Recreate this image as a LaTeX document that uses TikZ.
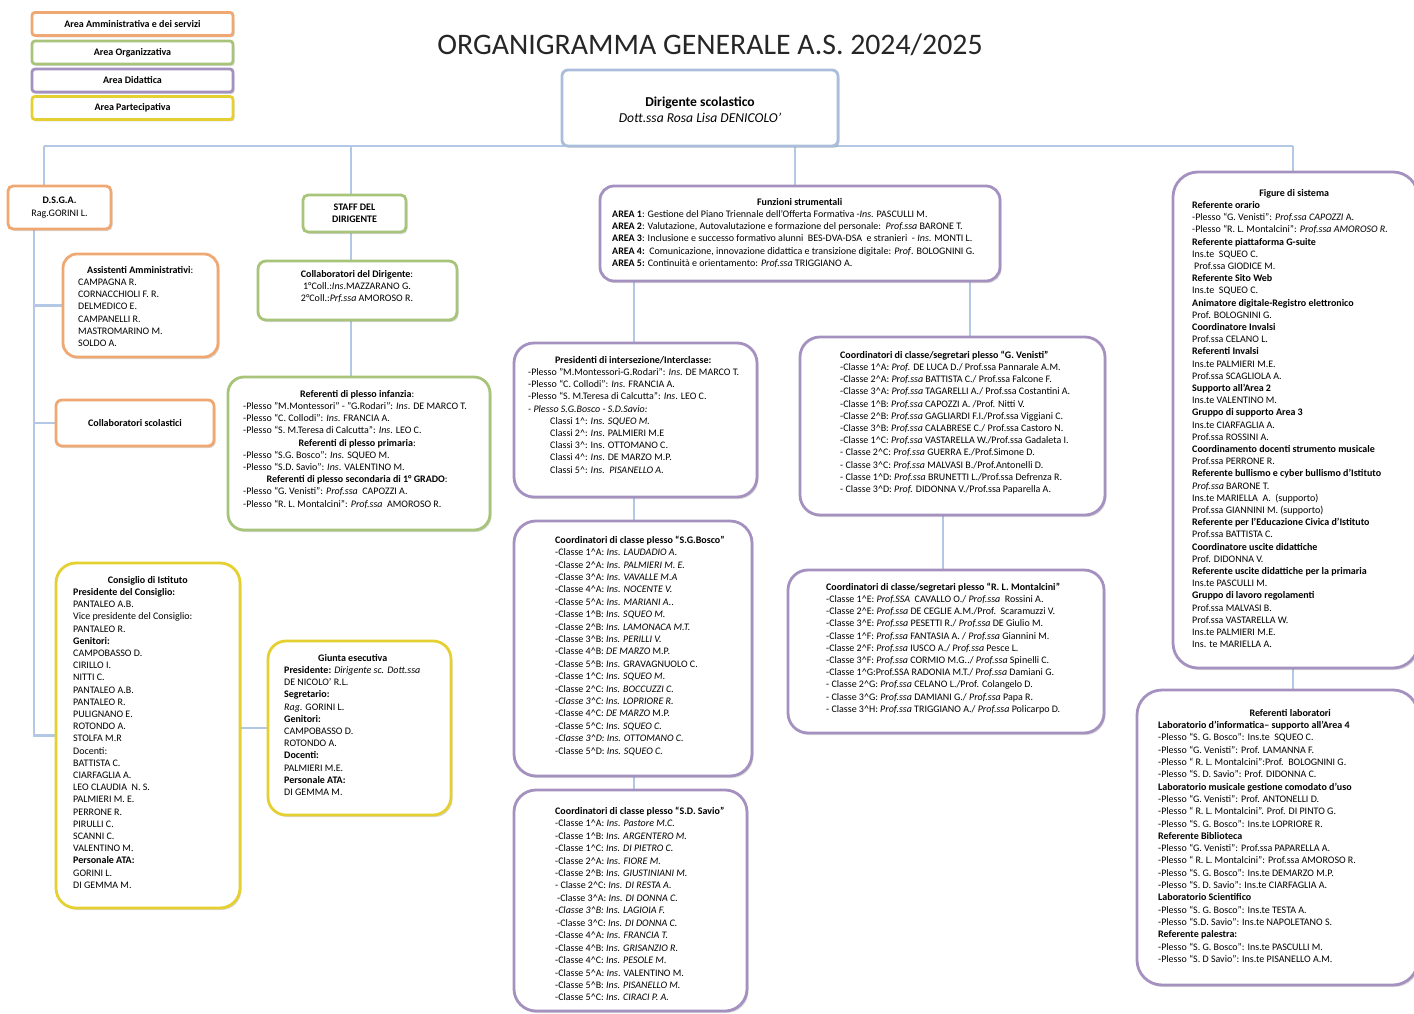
\documentclass[tikz,border=0pt]{standalone}
\usepackage{fontspec}
\setmainfont{Carlito}
\usetikzlibrary{shadows,calc}
\definecolor{corange}{RGB}{240,168,115}
\definecolor{cgreen}{RGB}{168,196,122}
\definecolor{cpurple}{RGB}{165,145,192}
\definecolor{cyellow}{RGB}{228,208,48}
\definecolor{cblue}{RGB}{178,200,228}
\definecolor{cdir}{RGB}{170,190,220}
\newcommand{\ca}{\textasciicircum}
\newcommand{\ctr}[2]{\makebox[#1pt][c]{#2}}
\newcommand{\bx}[7]{\node[box=#2, rounded corners=#7pt, minimum width={(#5-#3)*1pt}, minimum height={(#6-#4)*1pt}] (#1) at ({(#3+#5)/2},{(#4+#6)/2}) {};}
\pgfdeclarelayer{bg}
\pgfsetlayers{bg,main}
\begin{document}
\begin{tikzpicture}[x=1pt,y=-1pt,
  box/.style={draw=#1, line width=2.8pt, fill=white, inner sep=0pt, outer sep=0pt,
     drop shadow={shadow xshift=1.5pt, shadow yshift=-2pt, opacity=0.25, fill=black!60}},
  txt/.style={font=\fontsize{10}{12.2}\selectfont, align=left, inner sep=0pt, anchor=north west},
  conn/.style={draw=cblue, line width=2.6pt},
  legend/.style={box=#1, rounded corners=3pt, minimum width=201pt, minimum height=23pt, font=\bfseries\fontsize{10}{11}\selectfont},
]
\useasboundingbox (0,0) rectangle (1414,1014);

% legend
\node[legend=corange] (lg1) at (132.5,24) {Area Amministrativa e dei servizi};
\node[legend=cgreen] (lg2) at (132.5,52.5) {Area Organizzativa};
\node[legend=cpurple] (lg3) at (132.5,80.5) {Area Didattica};
\node[legend=cyellow] (lg4) at (132.5,108) {Area Partecipativa};

% title
\node[font=\fontsize{29.8}{34}\selectfont, text=black!85] (title) at (710,45) {ORGANIGRAMMA GENERALE A.S. 2024/2025};

% dirigente
\bx{dir}{cdir}{562}{70}{838}{146}{6}
\node[font=\fontsize{13.6}{16}\selectfont, align=center, inner sep=0pt] (dirtxt) at (700,110) {\textbf{Dirigente scolastico}\\\textit{Dott.ssa Rosa Lisa DENICOLO'}};

% boxes
\node[box=corange, rounded corners=5pt, minimum width=103pt, minimum height=43pt, txt, anchor=center, align=center] (dsga) at (59.5,207.5) {\textbf{D.S.G.A.}\\Rag.GORINI L.};
\node[box=cgreen, rounded corners=5pt, minimum width=103pt, minimum height=37pt, txt, anchor=center, align=center] (staff) at (354.5,213.5) {\textbf{STAFF DEL}\\\textbf{DIRIGENTE}};
\node[box=corange, rounded corners=6pt, minimum width=158pt, minimum height=46pt, txt, anchor=center, align=center] (collabsc) at (135,423) {\textbf{Collaboratori scolastici}};
\bx{assist}{corange}{63}{254}{218}{357}{14}
\bx{collab}{cgreen}{258}{261}{457}{320}{8}
\bx{refpl}{cgreen}{228}{377}{490}{530}{16}
\bx{consiglio}{cyellow}{56}{563}{240}{908}{20}
\bx{giunta}{cyellow}{268}{641}{451}{815}{18}
\bx{funz}{cpurple}{600}{186}{1000}{281}{14}
\bx{pres}{cpurple}{514}{343}{757}{497}{20}
\bx{bosco}{cpurple}{514}{521}{752}{776}{22}
\bx{savio}{cpurple}{514}{790}{747}{1011}{22}
\bx{venisti}{cpurple}{800}{337}{1105}{515}{20}
\bx{montal}{cpurple}{788}{570}{1104}{733}{20}
\bx{figure}{cpurple}{1173}{172}{1418}{668}{25}
\bx{reflab}{cpurple}{1137}{690}{1418}{985}{25}

% connectors
\coordinate (busL) at (44,146);
\coordinate (busR) at (1293,146);
\coordinate (stx) at (351,0);
\coordinate (fux) at (795,0);
\coordinate (spx) at (34,0);
\coordinate (cx1) at (634,0);
\coordinate (cx2) at (943,0);
\coordinate (cx3) at (970,0);
\begin{pgfonlayer}{bg}
\draw[conn] (busL) -- (busR);
\draw[conn] (busL) -- (dsga.north -| busL);
\draw[conn] (staff.north -| stx) -- (busL -| stx);
\draw[conn] (staff.south -| stx) -- (collab.north -| stx);
\draw[conn] (collab.south -| stx) -- (refpl.north -| stx);
\draw[conn] (funz.north -| fux) -- (busL -| fux);
\draw[conn] (figure.north -| busR) -- (busR);
\draw[conn] (dsga.south -| spx) |- (consiglio.west);
\draw[conn] (spx |- assist.west) -- (assist.west);
\draw[conn] (spx |- collabsc.west) -- (collabsc.west);
\draw[conn] (consiglio.east |- giunta.west) -- (giunta.west);
\draw[conn] (funz.south -| cx1) -- (pres.north -| cx1);
\draw[conn] (funz.south -| cx3) -- (venisti.north -| cx3);
\draw[conn] (pres.south -| cx1) -- (bosco.north -| cx1);
\draw[conn] (bosco.south -| cx1) -- (savio.north -| cx1);
\draw[conn] (venisti.south -| cx2) -- (montal.north -| cx2);
\draw[conn] (figure.south -| busR) -- (reflab.north -| busR);
\end{pgfonlayer}

% texts
\node[txt] (tassist) at (78,264.5) {\strut\ctr{124}{\textbf{Assistenti Amministrativi}:}\\CAMPAGNA R.\\CORNACCHIOLI F. R.\\DELMEDICO E.\\CAMPANELLI R.\\MASTROMARINO M.\\SOLDO A.};

\node[txt, anchor=north, align=center] (tcollab) at (357,268.5) {\strut\textbf{Collaboratori del Dirigente}:\\1°Coll.:\textit{Ins}.MAZZARANO G.\\2°Coll.:\textit{Prf.ssa} AMOROSO R.};

\node[txt] (trefpl) at (243,388.5) {\strut\ctr{228}{\textbf{Referenti di plesso infanzia}:}\\
-Plesso "M.Montessori" - "G.Rodari": \textit{Ins}. DE MARCO T.\\
-Plesso “C. Collodi”: \textit{Ins}. FRANCIA A.\\
-Plesso “S. M.Teresa di Calcutta”: \textit{Ins}. LEO C.\\
\ctr{228}{\textbf{Referenti di plesso primaria}:}\\
-Plesso “S.G. Bosco”: \textit{Ins}. SQUEO M.\\
-Plesso “S.D. Savio”: \textit{Ins}. VALENTINO M.\\
\ctr{228}{\textbf{Referenti di plesso secondaria di 1° GRADO}:}\\
-Plesso “G. Venisti”: \textit{Prof.ssa}\ \ CAPOZZI A.\\
-Plesso “R. L. Montalcini”: \textit{Prof.ssa}\ \ AMOROSO R.};

\node[txt] (tconsiglio) at (73,574.5) {\strut\ctr{149}{\textbf{Consiglio di Istituto}}\\
\textbf{Presidente del Consiglio:}\\PANTALEO A.B.\\Vice presidente del Consiglio:\\PANTALEO R.\\
\textbf{Genitori:}\\CAMPOBASSO D.\\CIRILLO I.\\NITTI C.\\PANTALEO A.B.\\PANTALEO R.\\PULIGNANO E.\\ROTONDO A.\\STOLFA M.R\\
Docenti:\\BATTISTA C.\\CIARFAGLIA A.\\LEO CLAUDIA\ \ N. S.\\PALMIERI M. E.\\PERRONE R.\\PIRULLI C.\\SCANNI C.\\VALENTINO M.\\
\textbf{Personale ATA:}\\GORINI L.\\DI GEMMA M.};

\node[txt] (tgiunta) at (284,652.5) {\strut\ctr{137}{\textbf{Giunta esecutiva}}\\
\textbf{Presidente:} \textit{Dirigente sc. Dott.ssa}\\DE NICOLO’ R.L.\\
\textbf{Segretario:}\\\textit{Rag}. GORINI L.\\
\textbf{Genitori:}\\CAMPOBASSO D.\\ROTONDO A.\\
\textbf{Docenti:}\\PALMIERI M.E.\\
\textbf{Personale ATA:}\\DI GEMMA M.};

\node[txt] (tfunz) at (612,196.5) {\strut\ctr{375}{\textbf{Funzioni strumentali}}\\
\textbf{AREA 1}: Gestione del Piano Triennale dell’Offerta Formativa -\textit{Ins}. PASCULLI M.\\
\textbf{AREA 2}: Valutazione, Autovalutazione e formazione del personale:\ \ \textit{Prof.ssa} BARONE T.\\
\textbf{AREA 3}: Inclusione e successo formativo alunni\ \ BES-DVA-DSA\ \ e stranieri\ \ - \textit{Ins}. MONTI L.\\
\textbf{AREA 4:}\ \ Comunicazione, innovazione didattica e transizione digitale: \textit{Prof}. BOLOGNINI G.\\
\textbf{AREA 5:} Continuità e orientamento: \textit{Prof.ssa} TRIGGIANO A.};

\node[txt] (tpres) at (528,354.5) {\strut\ctr{210}{\textbf{Presidenti di intersezione/Interclasse:}}\\
-Plesso "M.Montessori-G.Rodari": \textit{Ins}. DE MARCO T.\\
-Plesso “C. Collodi”: \textit{Ins}. FRANCIA A.\\
-Plesso “S. M.Teresa di Calcutta”: \textit{Ins}. LEO C.\\
\textit{- Plesso S.G.Bosco - S.D.Savio:}\\
\hspace*{22pt}Classi 1\ca: \textit{Ins. SQUEO M.}\\
\hspace*{22pt}Classi 2\ca: \textit{Ins}. PALMIERI M.E\\
\hspace*{22pt}Classi 3\ca: Ins. OTTOMANO C.\\
\hspace*{22pt}Classi 4\ca: \textit{Ins}. DE MARZO M.P.\\
\hspace*{22pt}Classi 5\ca: \textit{Ins.\ \ PISANELLO A.}};

\node[txt, font=\fontsize{10}{12.4}\selectfont] (tbosco) at (555,534.4) {\strut\textbf{Coordinatori di classe plesso “S.G.Bosco”}\\
-Classe 1\ca A: \textit{Ins. LAUDADIO A.}\\
-Classe 2\ca A: \textit{Ins. PALMIERI M. E.}\\
-Classe 3\ca A: \textit{Ins. VAVALLE M.A}\\
-Classe 4\ca A: \textit{Ins. NOCENTE V.}\\
-Classe 5\ca A: \textit{Ins. MARIANI A.}.\\
-Classe 1\ca B: \textit{Ins. SQUEO M.}\\
-Classe 2\ca B: \textit{Ins. LAMONACA M.T.}\\
-Classe 3\ca B: \textit{Ins. PERILLI V.}\\
-Classe 4\ca B: \textit{DE MARZO} M.P.\\
-Classe 5\ca B: \textit{Ins}. GRAVAGNUOLO C.\\
-Classe 1\ca C: \textit{Ins. SQUEO M.}\\
-Classe 2\ca C: \textit{Ins. BOCCUZZI C.}\\
\textit{-Classe 3\ca C: Ins. LOPRIORE R.}\\
-Classe 4\ca C: \textit{DE MARZO} M.P.\\
-Classe 5\ca C: \textit{Ins. SQUEO C.}\\
\textit{-Classe 3\ca D: Ins. OTTOMANO C.}\\
-Classe 5\ca D: \textit{Ins. SQUEO C.}};

\node[txt, font=\fontsize{10}{12.45}\selectfont] (tsavio) at (555,805.3) {\strut\textbf{Coordinatori di classe plesso “S.D. Savio”}\\
-Classe 1\ca A: \textit{Ins. Pastore M.C.}\\
-Classe 1\ca B: \textit{Ins. ARGENTERO M.}\\
-Classe 1\ca C: \textit{Ins. DI PIETRO C.}\\
-Classe 2\ca A: \textit{Ins. FIORE M.}\\
-Classe 2\ca B: \textit{Ins. GIUSTINIANI M.}\\
- Classe 2\ca C: \textit{Ins. DI RESTA A.}\\
\hspace*{2pt}-Classe 3\ca A: \textit{Ins. DI DONNA C.}\\
\textit{-Classe 3\ca B: Ins. LAGIOIA F.}\\
\hspace*{2pt}-Classe 3\ca C: \textit{Ins. DI DONNA C.}\\
-Classe 4\ca A: \textit{Ins. FRANCIA T.}\\
-Classe 4\ca B: \textit{Ins. GRISANZIO R.}\\
-Classe 4\ca C: \textit{Ins. PESOLE M.}\\
-Classe 5\ca A: \textit{Ins}. VALENTINO M.\\
-Classe 5\ca B: \textit{Ins. PISANELLO M.}\\
-Classe 5\ca C: \textit{Ins. CIRACI P. A.}};

\node[txt] (tvenisti) at (840,349.5) {\strut\textbf{Coordinatori di classe/segretari plesso “G. Venisti”}\\
-Classe 1\ca A: \textit{Prof.} DE LUCA D./ Prof.ssa Pannarale A.M.\\
-Classe 2\ca A: \textit{Prof.ssa} BATTISTA C./ Prof.ssa Falcone F.\\
-Classe 3\ca A: \textit{Prof.ssa} TAGARELLI A./ Prof.ssa Costantini A.\\
-Classe 1\ca B: \textit{Prof.ssa} CAPOZZI A. /Prof. Nitti V.\\
-Classe 2\ca B: \textit{Prof.ssa} GAGLIARDI F.I./Prof.ssa Viggiani C.\\
-Classe 3\ca B: \textit{Prof.ssa} CALABRESE C./ Prof.ssa Castoro N.\\
-Classe 1\ca C: \textit{Prof.ssa} VASTARELLA W./Prof.ssa Gadaleta I.\\
- Classe 2\ca C: \textit{Prof.ssa} GUERRA E./Prof.Simone D.\\
- Classe 3\ca C: \textit{Prof.ssa} MALVASI B./Prof.Antonelli D.\\
- Classe 1\ca D: \textit{Prof.ssa} BRUNETTI L./Prof.ssa Defrenza R.\\
- Classe 3\ca D: \textit{Prof.} DIDONNA V./Prof.ssa Paparella A.};

\node[txt] (tmontal) at (826,581.5) {\strut\textbf{Coordinatori di classe/segretari plesso “R. L. Montalcini”}\\
-Classe 1\ca E: \textit{Prof.SSA}\ \ CAVALLO O./ \textit{Prof.ssa}\ \ Rossini A.\\
-Classe 2\ca E: \textit{Prof.ssa} DE CEGLIE A.M./Prof.\ \ Scaramuzzi V.\\
-Classe 3\ca E: \textit{Prof.ssa} PESETTI R./ \textit{Prof.ssa} DE Giulio M.\\
-Classe 1\ca F: \textit{Prof.ssa} FANTASIA A. / \textit{Prof.ssa} Giannini M.\\
-Classe 2\ca F: \textit{Prof.ssa} IUSCO A./ \textit{Prof.ssa} Pesce L.\\
-Classe 3\ca F: \textit{Prof.ssa} CORMIO M.G../ \textit{Prof.ssa} Spinelli C.\\
-Classe 1\ca G:Prof.SSA RADONIA M.T./ \textit{Prof.ssa} Damiani G.\\
- Classe 2\ca G: \textit{Prof.ssa} CELANO L./Prof. Colangelo D.\\
- Classe 3\ca G: \textit{Prof.ssa} DAMIANI G./ \textit{Prof.ssa} Papa R.\\
- Classe 3\ca H: \textit{Prof.ssa} TRIGGIANO A./ \textit{Prof.ssa} Policarpo D.};

\node[txt] (tfigure) at (1192,187.5) {\strut\ctr{204}{\textbf{Figure di sistema}}\\
\textbf{Referente orario}\\
-Plesso “G. Venisti”: \textit{Prof.ssa CAPOZZI} A.\\
-Plesso “R. L. Montalcini”: \textit{Prof.ssa AMOROSO R.}\\
\textbf{Referente piattaforma G-suite}\\
Ins.te\ \ SQUEO C.\\
\hspace*{2pt}Prof.ssa GIODICE M.\\
\textbf{Referente Sito Web}\\
Ins.te\ \ SQUEO C.\\
\textbf{Animatore digitale-Registro elettronico}\\
Prof. BOLOGNINI G.\\
\textbf{Coordinatore Invalsi}\\
Prof.ssa CELANO L.\\
\textbf{Referenti Invalsi}\\
Ins.te PALMIERI M.E.\\
Prof.ssa SCAGLIOLA A.\\
\textbf{Supporto all’Area 2}\\
Ins.te VALENTINO M.\\
\textbf{Gruppo di supporto Area 3}\\
Ins.te CIARFAGLIA A.\\
Prof.ssa ROSSINI A.\\
\textbf{Coordinamento docenti strumento musicale}\\
Prof.ssa PERRONE R.\\
\textbf{Referente bullismo e cyber bullismo d’Istituto}\\
\textit{Prof.ssa} BARONE T.\\
Ins.te MARIELLA\ \ A.\ \ (supporto)\\
Prof.ssa GIANNINI M. (supporto)\\
\textbf{Referente per l’Educazione Civica d’Istituto}\\
Prof.ssa BATTISTA C.\\
\textbf{Coordinatore uscite didattiche}\\
Prof. DIDONNA V.\\
\textbf{Referente uscite didattiche per la primaria}\\
Ins.te PASCULLI M.\\
\textbf{Gruppo di lavoro regolamenti}\\
Prof.ssa MALVASI B.\\
Prof.ssa VASTARELLA W.\\
Ins.te PALMIERI M.E.\\
Ins. te MARIELLA A.};

\node[txt, font=\fontsize{10}{12.3}\selectfont] (treflab) at (1158,707.5) {\strut\ctr{264}{\textbf{Referenti laboratori}}\\
\textbf{Laboratorio d’informatica– supporto all’Area 4}\\
-Plesso “S. G. Bosco”: Ins.te\ \ SQUEO C.\\
-Plesso “G. Venisti”: Prof. LAMANNA F.\\
-Plesso “ R. L. Montalcini”:Prof.\ \ BOLOGNINI G.\\
-Plesso “S. D. Savio”: Prof. DIDONNA C.\\
\textbf{Laboratorio musicale gestione comodato d’uso}\\
-Plesso “G. Venisti”: Prof. ANTONELLI D.\\
-Plesso “ R. L. Montalcini”. Prof. DI PINTO G.\\
-Plesso “S. G. Bosco”: Ins.te LOPRIORE R.\\
\textbf{Referente Biblioteca}\\
-Plesso “G. Venisti”: Prof.ssa PAPARELLA A.\\
-Plesso “ R. L. Montalcini”: Prof.ssa AMOROSO R.\\
-Plesso “S. G. Bosco”: Ins.te DEMARZO M.P.\\
-Plesso “S. D. Savio”: Ins.te CIARFAGLIA A.\\
\textbf{Laboratorio Scientifico}\\
-Plesso “S. G. Bosco”: Ins.te TESTA A.\\
-Plesso “S.D. Savio”: Ins.te NAPOLETANO S.\\
\textbf{Referente palestra:}\\
-Plesso “S. G. Bosco”: Ins.te PASCULLI M.\\
-Plesso “S. D Savio”: Ins.te PISANELLO A.M.};

\end{tikzpicture}
\end{document}
